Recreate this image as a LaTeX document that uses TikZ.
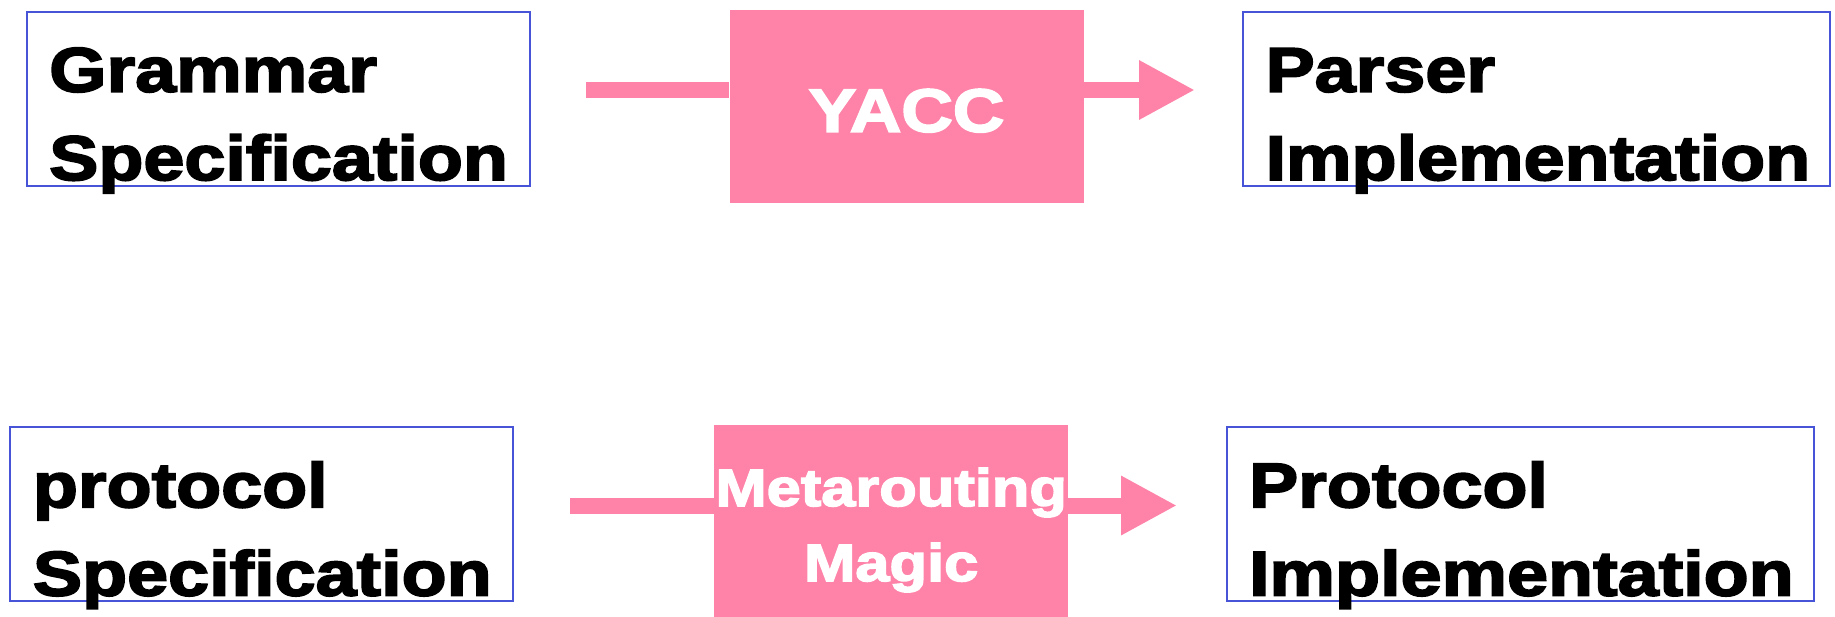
\documentclass[tikz,border=0pt]{standalone}
\usepackage{fontspec}
\usetikzlibrary{calc,arrows.meta}
\newfontfamily\heavy{Liberation Sans}[UprightFont={* Bold},FakeStretch=1.17,FakeBold=3]
\definecolor{boxblue}{RGB}{72,84,216}
\definecolor{pinkfill}{RGB}{255,130,168}
\tikzset{
  srcbox/.style={draw=boxblue, line width=2pt, fill=none, inner sep=0pt,
    minimum width=503pt, minimum height=174pt, anchor=north west},
  dstbox/.style={srcbox, minimum width=587pt},
  toolbox/.style={fill=pinkfill, draw=none, inner sep=0pt,
    minimum width=354pt, minimum height=193.5pt, anchor=north west},
  lbl/.style={inner sep=0pt, anchor=base west, text=black,
    font=\heavy\fontsize{63}{75}\selectfont},
  toollbl/.style={inner sep=0pt, anchor=base, text=white,
    font=\heavy\fontsize{61}{75}\selectfont},
  magiclbl/.style={toollbl, font=\heavy\fontsize{52.5}{60}\selectfont},
  pipe/.style={draw=pinkfill, line width=16pt},
  pipetip/.style={pipe, -{Triangle[length=56pt,width=55.5pt]}},
}
\begin{document}
\begin{tikzpicture}[x=1pt,y=-1pt]
\useasboundingbox[fill=white] (0,0) rectangle (1835,616);

% upper row: grammar -> YACC -> parser
\coordinate (inA) at (586,90);
\coordinate (tipA) at (1195,90);
\node[toolbox] (yacc) at (729.3,9.3) {};
\draw[pipe] (inA) -- (yacc.west |- inA);
\draw[pipetip] (yacc.east |- inA) -- (tipA);
\node[toollbl] (yaccA) at ($(yacc.north)+(0,122.4)$) {YACC};

\node[srcbox] (gram) at (25.7,10.5) {};
\node[lbl] (gramA) at ($(gram.north west)+(23.3,81.2)$) {Grammar};
\node[lbl] (gramB) at ($(gram.north west)+(23.3,169.5)$) {Specification};

\node[dstbox] (pars) at (1242,10.5) {};
\node[lbl] (parsA) at ($(pars.north west)+(23.3,81.2)$) {Parser};
\node[lbl] (parsB) at ($(pars.north west)+(23.3,169.5)$) {Implementation};

% lower row: protocol -> Metarouting Magic -> implementation
\coordinate (inB) at (570,505.5);
\coordinate (tipB) at (1177,505.5);
\node[toolbox] (meta) at (714,425) {};
\draw[pipe] (inB) -- (meta.west |- inB);
\draw[pipetip] (meta.east |- inB) -- (tipB);
\node[magiclbl] (metaA) at ($(meta.north)+(0,81)$) {Metarouting};
\node[magiclbl] (metaB) at ($(meta.north)+(0,156)$) {Magic};

\node[srcbox] (prot) at (9.4,426) {};
\node[lbl] (protA) at ($(prot.north west)+(23.3,81.2)$) {protocol};
\node[lbl] (protB) at ($(prot.north west)+(23.3,169.5)$) {Specification};

\node[dstbox] (impl) at (1225.5,426) {};
\node[lbl] (implA) at ($(impl.north west)+(23.3,81.2)$) {Protocol};
\node[lbl] (implB) at ($(impl.north west)+(23.3,169.5)$) {Implementation};
\end{tikzpicture}
\end{document}
